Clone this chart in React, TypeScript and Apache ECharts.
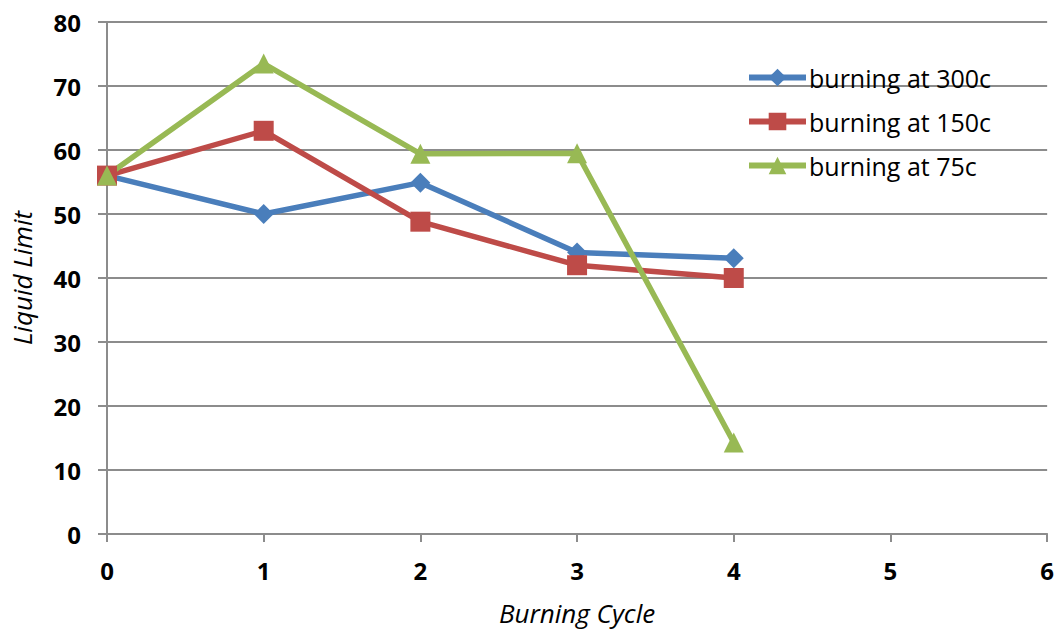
import React, { useEffect, useRef } from "react";
import * as echarts from "echarts";

const cycles = [0, 1, 2, 3, 4];
const burning300 = [56, 50, 54.9, 44, 43.1];
const burning150 = [56, 63, 48.8, 42, 40];
const burning75 = [56, 73.5, 59.4, 59.5, 14.3];
const seriesNames = ["burning at 300c", "burning at 150c", "burning at 75c"];
const colors = ["#4a7ebb", "#be4b48", "#98b954"];

export default function App() {
  const ref = useRef<HTMLDivElement>(null);
  useEffect(() => {
    const chart = echarts.init(ref.current!, null, { renderer: "svg" });
    const font = "'Open Sans', 'Liberation Sans', sans-serif";
    const mk = (name: string, data: number[], color: string, symbol: string, size: number) => ({
      name,
      type: "line",
      data: cycles.map((c, i) => [c, data[i]]),
      symbol,
      symbolSize: size,
      lineStyle: { color, width: 5.5 },
      itemStyle: { color },
    });
    chart.setOption({
      animation: false,
      textStyle: { fontFamily: font },
      grid: { left: 107, right: 7, top: 22, bottom: 95, containLabel: false },
      legend: {
        orient: "vertical",
        left: 741,
        top: 60,
        itemGap: 19,
        itemWidth: 57,
        itemHeight: 22,
        lineStyle: { width: 6 },
        textStyle: { fontSize: 25, color: "#000", fontFamily: font, padding: [0, 0, 0, -2] },
        data: seriesNames,
      },
      xAxis: {
        type: "value",
        min: 0,
        max: 6,
        interval: 1,
        name: "Burning Cycle",
        nameLocation: "middle",
        nameGap: 66,
        nameTextStyle: { fontSize: 26, fontStyle: "italic", color: "#000", fontFamily: font },
        axisLine: { show: true, lineStyle: { color: "#8c8c8c", width: 2 } },
        axisTick: { show: true, length: 8, lineStyle: { color: "#8c8c8c", width: 2 } },
        axisLabel: { fontSize: 24, fontWeight: "bold", color: "#000", margin: 24, fontFamily: font },
        splitLine: { show: false },
      },
      yAxis: {
        type: "value",
        min: 0,
        max: 80,
        interval: 10,
        name: "Liquid Limit",
        nameLocation: "middle",
        nameGap: 72,
        nameTextStyle: { fontSize: 26, fontStyle: "italic", color: "#000", fontFamily: font },
        axisLine: { show: true, lineStyle: { color: "#8c8c8c", width: 2 } },
        axisTick: { show: true, length: 9, lineStyle: { color: "#8c8c8c", width: 2 } },
        axisLabel: { fontSize: 24, fontWeight: "bold", color: "#000", margin: 26, fontFamily: font },
        splitLine: { show: true, lineStyle: { color: "#8c8c8c", width: 2 } },
      },
      series: [
        mk(seriesNames[0], burning300, colors[0], "diamond", 20),
        mk(seriesNames[1], burning150, colors[1], "rect", 20),
        mk(seriesNames[2], burning75, colors[2], "triangle", 20),
      ],
    });
    return () => chart.dispose();
  }, []);
  return (
    <div
      ref={ref}
      style={{ position: "absolute", left: 0, top: 0, width: 1057, height: 631, background: "#fff" }}
    />
  );
}
